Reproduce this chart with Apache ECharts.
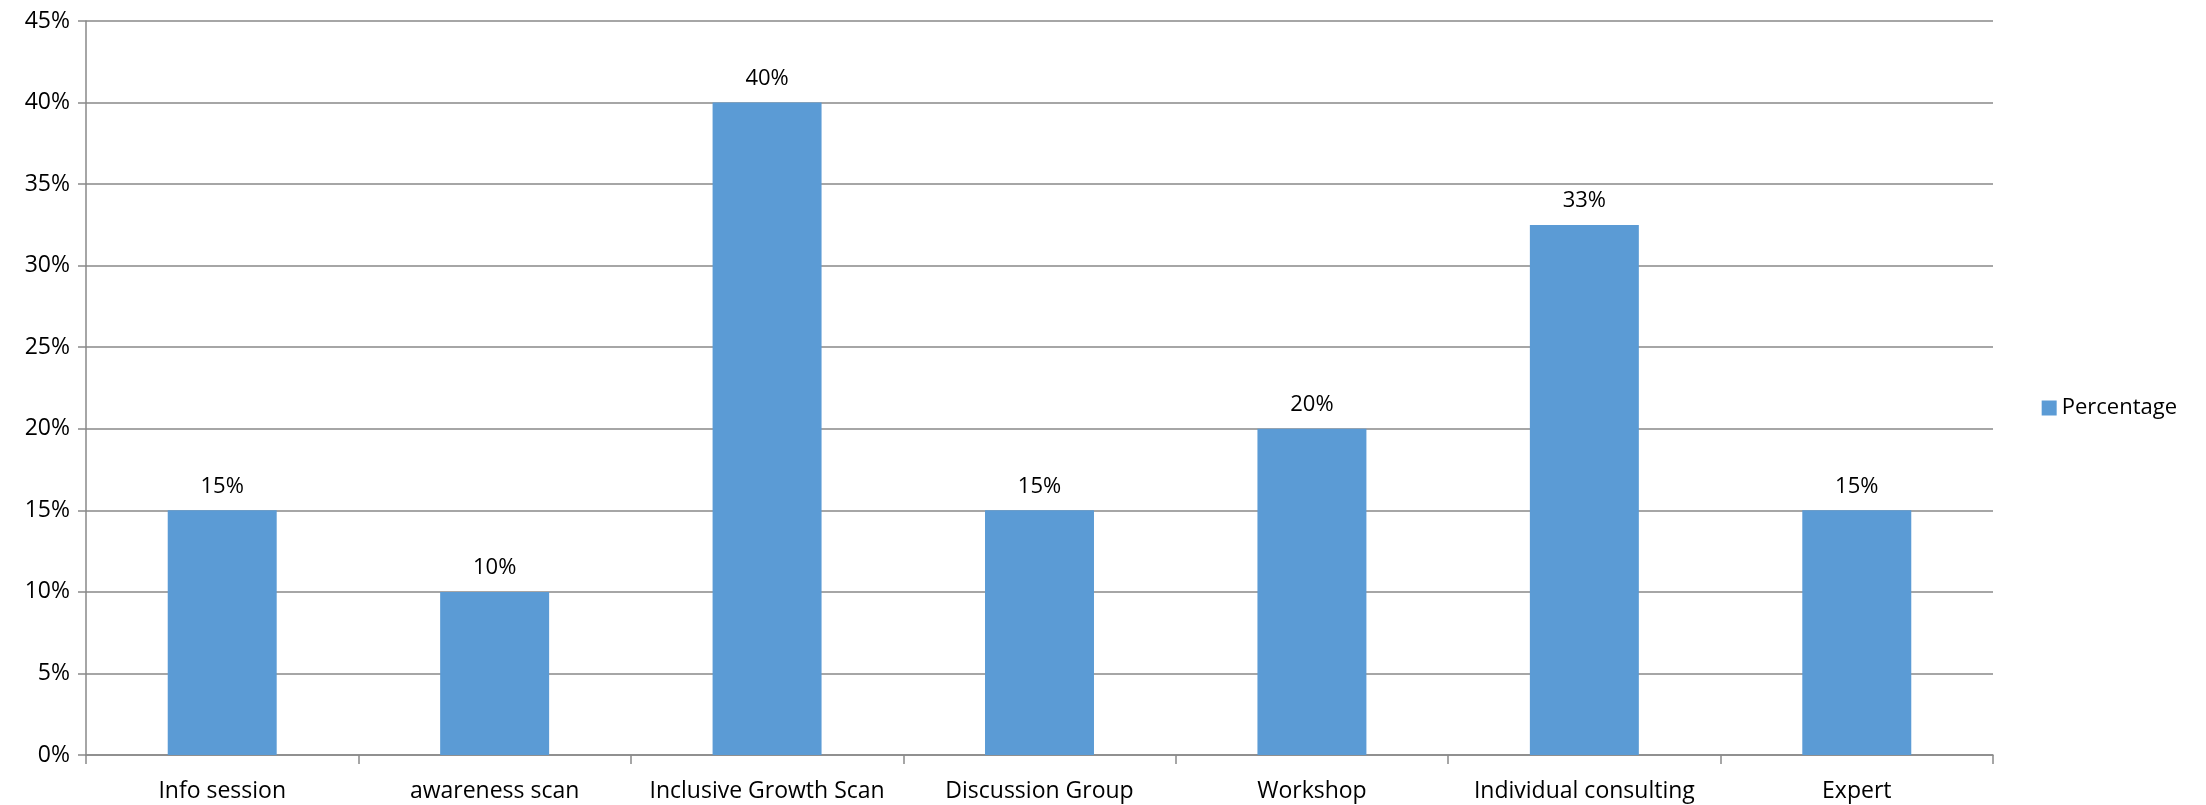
<!DOCTYPE html>
<html>
<head>
<meta charset="utf-8">
<script src="https://cdn.jsdelivr.net/npm/echarts@6/dist/echarts.min.js"></script>
<style>
  html, body { margin: 0; padding: 0; background: #fff; }
  #chart { width: 2206px; height: 805px; }
</style>
</head>
<body>
<div id="chart"></div>
<script>
  // data
  var categories = ['Info session', 'awareness scan', 'Inclusive Growth Scan', 'Discussion Group', 'Workshop', 'Individual consulting', 'Expert'];
  var percentValues = [15, 10, 40, 15, 20, 32.5, 15];
  var seriesName = 'Percentage';

  var font = 'Open Sans';
  var chart = echarts.init(document.getElementById('chart'));
  chart.setOption({
    animation: false,
    textStyle: { fontFamily: font },
    grid: { left: 86, right: 213, top: 21, bottom: 50, containLabel: false },
    legend: {
      data: [seriesName],
      right: 24,
      top: 392,
      icon: 'rect',
      itemWidth: 15,
      itemHeight: 15,
      itemGap: 8,
      textStyle: { fontSize: 22, color: '#000', fontFamily: font }
    },
    xAxis: {
      type: 'category',
      data: categories,
      axisLine: { lineStyle: { color: '#898989', width: 1.5 } },
      axisTick: { show: true, length: 9, lineStyle: { color: '#898989', width: 1.5 } },
      axisLabel: { fontSize: 23, color: '#000', margin: 25, interval: 0 }
    },
    yAxis: {
      type: 'value',
      min: 0,
      max: 45,
      interval: 5,
      axisLine: { show: true, lineStyle: { color: '#898989', width: 1.5 } },
      axisTick: { show: true, length: 8, lineStyle: { color: '#898989', width: 1.5 } },
      axisLabel: { fontSize: 23, color: '#000', margin: 16, formatter: '{value}%' },
      splitLine: { lineStyle: { color: '#898989', width: 1.5 } }
    },
    series: [{
      name: seriesName,
      type: 'bar',
      data: percentValues,
      barWidth: '40%',
      itemStyle: { color: '#5B9BD5' },
      label: {
        show: true,
        position: 'top',
        distance: 13,
        fontSize: 22,
        color: '#000',
        formatter: function (p) { return Math.round(p.value) + '%'; }
      }
    }]
  });
</script>
</body>
</html>
